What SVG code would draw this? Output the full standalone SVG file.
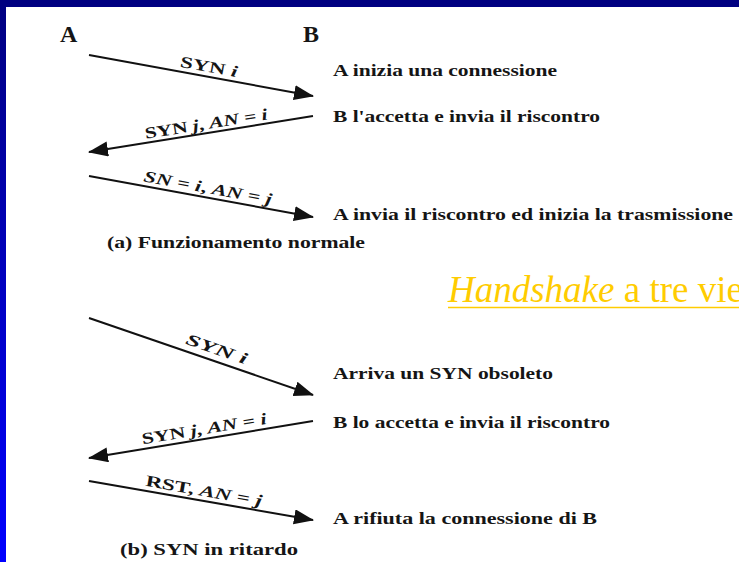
<svg xmlns="http://www.w3.org/2000/svg" width="739" height="562" viewBox="0 0 739 562">
  <defs>
    <linearGradient id="bg" x1="0" y1="0" x2="0" y2="1">
      <stop offset="0" stop-color="#000080"/>
      <stop offset="1" stop-color="#0000FF"/>
    </linearGradient>
    <marker id="head" markerUnits="userSpaceOnUse" markerWidth="22" markerHeight="16" refX="19" refY="7.5" orient="auto">
      <path d="M0,0 L20,7.5 L0,15 Z" fill="#111"/>
    </marker>
    <style>
      .lbl { font-family: "Liberation Serif", "Times New Roman", serif; font-weight: bold; font-size: 17px; fill: #151515; }
      .end { font-family: "Liberation Serif", "Times New Roman", serif; font-weight: bold; font-size: 24px; fill: #151515; }
      .arr { font-family: "Liberation Serif", "Times New Roman", serif; font-weight: bold; font-size: 16px; fill: #151515; text-anchor: middle; }
      .it { font-style: italic; }
      .conn line { stroke: #111; stroke-width: 2; marker-end: url(#head); }
      .title { font-family: "Liberation Serif", "Times New Roman", serif; font-size: 37px; fill: #FFCC00; }
    </style>
  </defs>

  <rect x="0" y="0" width="739" height="562" fill="url(#bg)"/>
  <rect x="6" y="7" width="733" height="555" fill="#FFFFFF"/>

  <g id="endpoint-A"><text class="end" x="60" y="42">A</text></g>
  <g id="endpoint-B"><text class="end" x="303" y="42">B</text></g>

  <g id="connectors" class="conn">
    <line x1="89" y1="55" x2="313" y2="96"/>
    <line x1="313" y1="116" x2="89" y2="152"/>
    <line x1="89" y1="176" x2="313" y2="217"/>
    <line x1="89" y1="318" x2="313" y2="395"/>
    <line x1="313" y1="421" x2="89" y2="458"/>
    <line x1="89" y1="481" x2="313" y2="520"/>
  </g>

  <g id="connector-labels">
    <text class="arr" transform="translate(208,72) rotate(10.4)" textLength="58" lengthAdjust="spacingAndGlyphs">SYN <tspan class="it">i</tspan></text>
    <text class="arr" transform="translate(207,129) rotate(-9.1)" textLength="124" lengthAdjust="spacingAndGlyphs">SYN <tspan class="it">j</tspan>, <tspan class="it">AN</tspan> = <tspan class="it">i</tspan></text>
    <text class="arr" transform="translate(207,193) rotate(10.4)" textLength="130" lengthAdjust="spacingAndGlyphs"><tspan class="it">SN</tspan> = <tspan class="it">i</tspan>, <tspan class="it">AN</tspan> = <tspan class="it">j</tspan></text>
    <text class="arr" transform="translate(215,354) rotate(19)" textLength="64" lengthAdjust="spacingAndGlyphs"><tspan class="it">SYN i</tspan></text>
    <text class="arr" transform="translate(205,434) rotate(-9.4)" textLength="126" lengthAdjust="spacingAndGlyphs">SYN <tspan class="it">j</tspan>, <tspan class="it">AN</tspan> = <tspan class="it">i</tspan></text>
    <text class="arr" transform="translate(203,496) rotate(9.9)" textLength="118" lengthAdjust="spacingAndGlyphs">RST, <tspan class="it">AN</tspan> = <tspan class="it">j</tspan></text>
  </g>

  <g id="desc-a">
    <text class="lbl" x="333" y="76" textLength="224" lengthAdjust="spacingAndGlyphs">A inizia una connessione</text>
    <text class="lbl" x="333" y="122" textLength="267" lengthAdjust="spacingAndGlyphs">B l'accetta e invia il riscontro</text>
    <text class="lbl" x="333" y="220" textLength="400" lengthAdjust="spacingAndGlyphs">A invia il riscontro ed inizia la trasmissione</text>
    <text class="lbl" x="107" y="248" textLength="258" lengthAdjust="spacingAndGlyphs">(a) Funzionamento normale</text>
  </g>

  <g id="desc-b">
    <text class="lbl" x="333" y="379" textLength="220" lengthAdjust="spacingAndGlyphs">Arriva un SYN obsoleto</text>
    <text class="lbl" x="333" y="428" textLength="277" lengthAdjust="spacingAndGlyphs">B lo accetta e invia il riscontro</text>
    <text class="lbl" x="333" y="524" textLength="264" lengthAdjust="spacingAndGlyphs">A rifiuta la connessione di B</text>
    <text class="lbl" x="120" y="555" textLength="178" lengthAdjust="spacingAndGlyphs">(b) SYN in ritardo</text>
  </g>

  <g id="title">
    <text class="title" x="448" y="302"><tspan font-style="italic">Handshake</tspan> a tre vie</text>
    <line x1="448" y1="307.5" x2="739" y2="307.5" stroke="#FFCC00" stroke-width="1.5"/>
  </g>
</svg>
